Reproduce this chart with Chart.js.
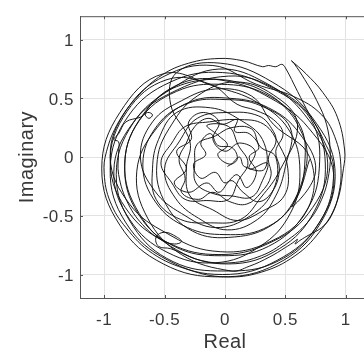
<!DOCTYPE html>
<html>
<head>
<meta charset="utf-8">
<script src="https://cdn.jsdelivr.net/npm/chart.js@4.4.1/dist/chart.umd.min.js"></script>
<style>
  html, body { margin: 0; padding: 0; background: #fff; overflow: hidden; }
  #wrap { width: 372px; height: 355px; }
</style>
</head>
<body>
<div id="wrap"><canvas id="c" width="372" height="355"></canvas></div>
<script>
// Axis settings
const tickValues = [-1, -0.5, 0, 0.5, 1];
const axisMin = -1.2, axisMax = 1.2;

// Trajectory in the complex plane, as [real, imaginary] pairs, in order
const centreTangle = [[0.02,-0.08],[0.10,-0.02],[0.06,0.08],[-0.06,0.10],[-0.12,0.20],[-0.20,0.12],[-0.16,0.02],[-0.26,-0.06],[-0.20,-0.18],[-0.08,-0.13],[0.00,-0.22],[0.10,-0.15],[0.18,-0.26],[0.26,-0.13],[0.20,0.00],[0.28,0.08],[0.20,0.20],[0.08,0.22],[0.10,0.32],[-0.02,0.28],[-0.14,0.33],[-0.25,0.26],[-0.32,0.12],[-0.38,-0.02],[-0.33,-0.18],[-0.36,-0.30],[-0.22,-0.36],[-0.10,-0.30],[0.04,-0.38],[0.18,-0.40],[0.30,-0.30],[0.38,-0.16],[0.36,0.00],[0.42,0.12]];
const innerRing = [[0.40,0.22],[0.28,0.35],[0.02,0.38],[-0.23,0.33],[-0.38,0.13],[-0.50,-0.10],[-0.41,-0.35],[-0.22,-0.52],[0.02,-0.62],[0.27,-0.53],[0.42,-0.33],[0.50,-0.08]];
const ringA = [[0.54,0.25],[0.29,0.44],[0.00,0.49],[-0.30,0.46],[-0.56,0.27],[-0.68,-0.06],[-0.57,-0.39],[-0.31,-0.60],[0.00,-0.66],[0.32,-0.61],[0.57,-0.39],[0.66,-0.06]];
const ringB = [[0.61,0.29],[0.33,0.54],[-0.03,0.62],[-0.40,0.56],[-0.71,0.31],[-0.83,-0.08],[-0.72,-0.48],[-0.42,-0.76],[-0.03,-0.84],[0.36,-0.76],[0.66,-0.48],[0.78,-0.10]];
const ringC = [[0.71,0.32],[0.38,0.59],[-0.02,0.72],[-0.45,0.64],[-0.80,0.35],[-0.95,-0.10],[-0.82,-0.56],[-0.47,-0.88],[-0.02,-1.00],[0.43,-0.88],[0.78,-0.56],[0.90,-0.12]];
const outerSweep = [[0.80,0.18],[0.70,0.36],[0.60,0.56],[0.50,0.76],[0.47,0.79],[0.42,0.77],[0.36,0.78],[0.31,0.77],[0.15,0.82],[-0.05,0.84],[-0.30,0.80],[-0.52,0.70],[-0.72,0.52],[-0.88,0.30],[-0.98,0.05],[-1.00,-0.14],[-0.95,-0.38],[-0.82,-0.60],[-0.60,-0.82],[-0.30,-0.96],[0.00,-1.02],[0.30,-0.98],[0.58,-0.84],[0.78,-0.64],[0.92,-0.40],[0.98,-0.10],[0.99,0.06],[0.93,0.34],[0.81,0.55],[0.67,0.71],[0.55,0.82],[0.57,0.80],[0.66,0.66],[0.76,0.48],[0.84,0.28],[0.87,0.06],[0.86,-0.14],[0.80,-0.36]];
const leftHooks = [[0.68,-0.56],[0.50,-0.72],[0.30,-0.84],[0.05,-0.90],[-0.20,-0.88],[-0.45,-0.78],[-0.55,-0.76],[-0.57,-0.68],[-0.50,-0.64],[-0.40,-0.68],[-0.36,-0.72],[-0.42,-0.74],[-0.52,-0.71],[-0.66,-0.60],[-0.80,-0.40],[-0.88,-0.15],[-0.88,0.05],[-0.88,0.13],[-0.92,0.15],[-0.88,0.20],[-0.82,0.30],[-0.70,0.34],[-0.64,0.38],[-0.60,0.36],[-0.63,0.33],[-0.66,0.37],[-0.56,0.50],[-0.40,0.60],[-0.15,0.66],[0.10,0.64],[0.32,0.56],[0.50,0.42],[0.62,0.24],[0.68,0.04],[0.64,-0.20],[0.56,-0.42]];
const ringD = [[0.75,-0.12],[0.61,0.21],[0.36,0.42],[0.05,0.50],[-0.29,0.47],[-0.57,0.24],[-0.73,-0.12],[-0.64,-0.52],[-0.36,-0.83],[0.05,-0.97]];
const lowerZigzag = [[0.20,-0.93],[0.37,-0.85],[0.50,-0.77],[0.56,-0.73],[0.60,-0.70],[0.58,-0.74],[0.62,-0.71],[0.70,-0.66],[0.80,-0.60],[0.88,-0.50],[0.94,-0.32],[0.96,-0.10],[0.92,0.14]];
const ringE = [[0.80,0.36],[0.56,0.52],[0.26,0.62],[-0.10,0.78],[-0.50,0.69],[-0.81,0.41],[-0.95,0.00],[-0.79,-0.40],[-0.48,-0.65],[-0.10,-0.80],[0.33,-0.74],[0.68,-0.45],[0.70,0.00]];
const ringF = [[0.40,0.28],[0.22,0.52],[-0.08,0.58],[-0.36,0.48],[-0.60,0.30],[-0.70,0.00],[-0.58,-0.29],[-0.36,-0.48],[-0.08,-0.60],[0.21,-0.50],[0.40,-0.28],[0.42,0.00]];
const innerLoop = [[0.29,0.09],[0.22,0.24],[0.05,0.25],[-0.08,0.18],[-0.23,0.11],[-0.25,-0.05],[-0.24,-0.22],[-0.10,-0.31],[0.05,-0.33],[0.22,-0.34],[0.31,-0.20],[0.35,-0.05]];
const midScribble = [[0.20,-0.10],[0.25,0.05],[0.12,0.12],[0.00,0.05],[-0.10,0.15],[-0.05,0.30],[-0.18,0.38],[-0.30,0.30],[-0.28,0.15],[-0.40,0.05],[-0.32,-0.10],[-0.42,-0.22],[-0.30,-0.30],[-0.15,-0.22],[-0.05,-0.30],[0.05,-0.20],[0.15,-0.30],[0.28,-0.38],[0.40,-0.28],[0.45,-0.10],[0.42,0.05],[0.48,0.20],[0.40,0.32],[0.25,0.40],[0.10,0.45]];
const ringG = [[-0.12,0.62],[-0.48,0.66],[-0.81,0.39],[-0.95,-0.05],[-0.79,-0.48],[-0.45,-0.74],[-0.05,-0.83],[0.35,-0.74],[0.69,-0.48],[0.85,-0.05],[0.66,0.36],[0.34,0.63],[-0.05,0.75]];
const ringH = [[-0.43,0.59],[-0.76,0.29],[-0.90,-0.15],[-0.76,-0.59],[-0.43,-0.89],[0.00,-0.97],[0.43,-0.89],[0.76,-0.59],[0.90,-0.15],[0.69,0.25],[0.38,0.50],[0.00,0.65]];
const ringI = [[-0.36,0.63],[-0.68,0.36],[-0.83,-0.05],[-0.71,-0.48],[-0.40,-0.79],[0.03,-0.91],[0.45,-0.78],[0.74,-0.46],[0.83,-0.05],[0.71,0.34],[0.40,0.59],[0.03,0.69]];
const ringJ = [[-0.46,0.54],[-0.77,0.28],[-0.92,-0.12],[-0.79,-0.53],[-0.48,-0.81],[-0.08,-0.90],[0.29,-0.76],[0.54,-0.48],[0.62,-0.12],[0.53,0.23],[0.26,0.47],[-0.08,0.60]];
const ringK = [[-0.51,0.71],[-0.87,0.38],[-1.02,-0.10],[-0.87,-0.58],[-0.51,-0.91],[-0.04,-1.02],[0.43,-0.91],[0.78,-0.58],[0.91,-0.10],[0.72,0.34],[0.39,0.64],[-0.04,0.80],[-0.40,0.72]];
const innerDrift = [[-0.45,0.45],[-0.29,0.13],[-0.32,-0.10],[-0.29,-0.33],[-0.10,-0.45],[0.10,-0.54],[0.31,-0.46],[0.49,-0.33],[0.52,-0.10],[0.45,0.10],[0.32,0.28],[0.10,0.32],[-0.13,0.30],[-0.33,0.26],[-0.44,0.12],[-0.53,-0.05],[-0.44,-0.22],[-0.33,-0.36],[-0.15,-0.37],[0.03,-0.36],[0.11,-0.20],[0.19,-0.05],[0.11,0.10],[0.03,0.26],[-0.15,0.27],[-0.05,0.18],[0.02,0.10],[-0.06,0.02],[0.04,-0.06],[0.12,0.00],[0.16,-0.08]];
const ringM = [[0.33,-0.10],[0.31,0.15],[0.12,0.32],[-0.12,0.42],[-0.40,0.38],[-0.55,0.15],[-0.60,-0.10],[-0.57,-0.36],[-0.37,-0.53],[-0.12,-0.56],[0.13,-0.53],[0.30,-0.34],[0.45,-0.12]];
const ringL = [[0.60,0.28],[0.40,0.53],[0.08,0.64],[-0.23,0.52],[-0.44,0.28],[-0.56,-0.02],[-0.51,-0.36],[-0.27,-0.63],[0.08,-0.68],[0.40,-0.57],[0.60,-0.32],[0.70,-0.02]];

const segments = [centreTangle, innerRing, ringA, ringB, ringC, outerSweep, leftHooks, ringD, lowerZigzag,
  ringE, ringF, innerLoop, midScribble, ringG, ringH, ringI, ringJ, ringK, innerDrift, ringM, ringL];
const trajectory = [].concat(...segments).map(([re, im]) => ({ x: re, y: im }));

const textColor = '#383838';
const frameColor = '#555555';
const fontFamily = '"Liberation Sans", Arial, Helvetica, sans-serif';

// Slightly wider glyph spacing for all axis text
const spacing = {
  id: 'spacing',
  beforeDraw(chart) { chart.ctx.letterSpacing = '0.5px'; }
};

// Top/right box edges and inward-pointing tick marks
const frame = {
  id: 'frame',
  afterDatasetsDraw(chart) {
    const { ctx, chartArea: a, scales: { x, y } } = chart;
    ctx.save();
    ctx.strokeStyle = frameColor;
    ctx.lineWidth = 1;
    ctx.beginPath();
    ctx.moveTo(a.left, a.top + 0.5); ctx.lineTo(a.right, a.top + 0.5);
    ctx.moveTo(a.right - 0.5, a.top); ctx.lineTo(a.right - 0.5, a.bottom);
    tickValues.forEach(v => {
      const px = Math.round(x.getPixelForValue(v)) + 0.5;
      ctx.moveTo(px, a.bottom); ctx.lineTo(px, a.bottom - 3);
      ctx.moveTo(px, a.top); ctx.lineTo(px, a.top + 3);
      const py = Math.round(y.getPixelForValue(v)) + 0.5;
      ctx.moveTo(a.left, py); ctx.lineTo(a.left + 3, py);
      ctx.moveTo(a.right, py); ctx.lineTo(a.right - 3, py);
    });
    ctx.stroke();
    ctx.restore();
  }
};

const setTicks = scale => { scale.ticks = tickValues.map(v => ({ value: v })); };

new Chart(document.getElementById('c'), {
  type: 'scatter',
  data: {
    datasets: [{
      data: trajectory,
      showLine: true,
      borderColor: '#111111',
      borderWidth: 0.95,
      pointRadius: 0,
      pointHoverRadius: 0,
      tension: 0.4,
      fill: false
    }]
  },
  options: {
    responsive: false,
    animation: false,
    devicePixelRatio: 1,
    layout: { padding: { left: 0, top: 8, right: 2, bottom: 0 } },
    plugins: { legend: { display: false }, tooltip: { enabled: false } },
    scales: {
      x: {
        type: 'linear',
        min: axisMin, max: axisMax,
        afterBuildTicks: setTicks,
        afterFit: s => { s.height = 57; },
        grid: { color: '#e2e2e2', lineWidth: 1, drawTicks: false },
        border: { display: true, color: frameColor, width: 1 },
        ticks: {
          padding: 12, color: textColor, maxRotation: 0, autoSkip: false,
          font: { family: fontFamily, size: 17 },
          callback: v => String(v)
        },
        title: {
          display: true, text: 'Real', color: textColor,
          font: { family: fontFamily, size: 20 },
          padding: { top: 0, bottom: 1 }
        }
      },
      y: {
        type: 'linear',
        min: axisMin, max: axisMax,
        afterBuildTicks: setTicks,
        afterFit: s => { s.width = 80; },
        grid: { color: '#e2e2e2', lineWidth: 1, drawTicks: false },
        border: { display: true, color: frameColor, width: 1 },
        ticks: {
          padding: 6, labelOffset: 1.5, color: textColor, autoSkip: false,
          font: { family: fontFamily, size: 17 },
          callback: v => String(v)
        },
        title: {
          display: true, text: 'Imaginary', color: textColor,
          font: { family: fontFamily, size: 20 },
          padding: { top: 15, bottom: 0 }
        }
      }
    }
  },
  plugins: [spacing, frame]
});
</script>
</body>
</html>
